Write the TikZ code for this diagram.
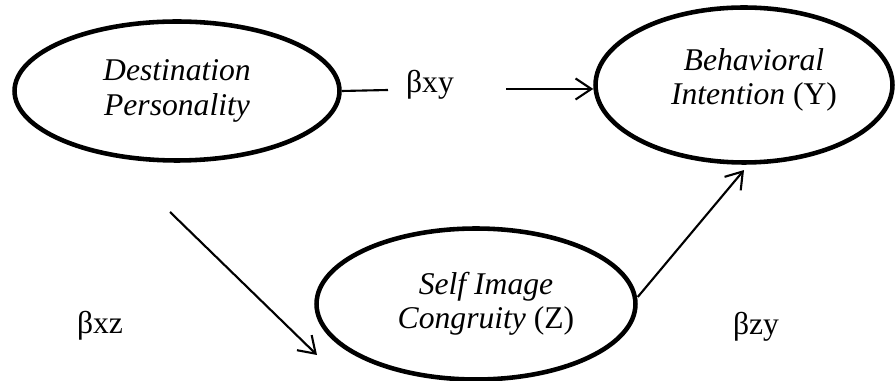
\documentclass[tikz,border=0pt]{standalone}
\usepackage{fontspec}
\setmainfont{Liberation Serif}
\usetikzlibrary{shapes.geometric,arrows.meta}

\tikzset{
	construct/.style={draw, ellipse, line width=2.6pt, inner sep=0pt},
	conname/.style={align=center, font=\fontsize{18}{19.5}\selectfont\itshape},
	path/.style={line width=1.2pt, -{Straight Barb[length=9pt, width=12pt, line width=1.2pt]}},
	coef/.style={font=\fontsize{18}{20}\selectfont}
}

\begin{document}
\begin{tikzpicture}[x=0.02cm, y=-0.02cm]
	\useasboundingbox (0,0) rectangle (896,381);

	% Draw the three constructs, names nudged inside the ellipses
	\node[construct, minimum width=6.5cm, minimum height=2.78cm,
		label={[conname]center:Destination\\Personality}] (dp) at (177,91) {};
	\node[construct, minimum width=5.94cm, minimum height=3.1cm,
		label={[conname, xshift=0.2cm, yshift=0.1cm]center:Behavioral\\Intention \upshape(Y)}] (bi) at (744,85) {};
	\node[construct, minimum width=6.38cm, minimum height=3.02cm,
		label={[conname, xshift=0.2cm]center:Self Image\\Congruity \upshape(Z)}] (sic) at (476,304) {};

	% Coefficients
	\node[coef] (bxy) at (430,85) {βxy};
	\node[coef] (bxz) at (100,326) {βxz};
	\node[coef] (bzy) at (756,327) {βzy};

	% Direct path X -> Y
	\coordinate (xyA) at (388,90);
	\coordinate (xyB) at (506,89);
	\draw[line width=1.2pt] (dp.east) -- (xyA);
	\draw[path] (xyB) -- (xyB -| bi.west);

	% Path X -> Z
	\coordinate (xzA) at (170,212);
	\coordinate (xzB) at (317,355);
	\draw[path] (xzA) -- (xzB);

	% Path Z -> Y
	\draw[path] ([yshift=4pt]sic.east) -- ([yshift=-3pt]bi.south);
\end{tikzpicture}
\end{document}
